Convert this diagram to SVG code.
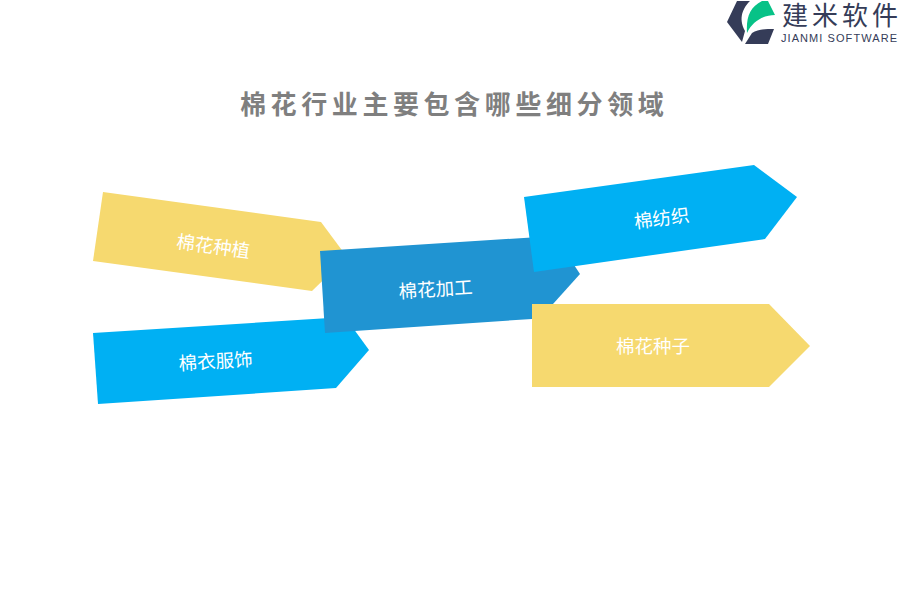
<svg xmlns="http://www.w3.org/2000/svg" width="900" height="600" viewBox="0 0 900 600">
<style>
text{font-family:"Noto Sans CJK SC","Liberation Sans",sans-serif}
.l{font-size:18.500px;fill:#fff;text-anchor:middle;dominant-baseline:central}
.y{fill:#f6d96f}.b{fill:#00b0f3}.m{fill:#2094d2}.d{fill:#353c58}
</style>
<rect width="900" height="600" fill="#fff"/>
<text x="240" y="114" font-size="26" font-weight="700" fill="#7f7f7f" letter-spacing="4.6">棉花行业主要包含哪些细分领域</text>
<g id="logo">
<path class="d" d="M737 1H750C743 8 738 18 745 31L742 42L727 22Z"/>
<path class="d" d="M745 44L752 33C758 29 766 29 774 29L768 44Z"/>
<path d="M747 33C746 17 750 7 762 1H768L775 15C765 15 753 20 747 33Z" fill="#07c287"/>
<text x="782" y="25" font-size="26" fill="#353c58" textLength="116">建米软件</text>
<text x="781" y="42" font-size="11" fill="#353c58" style="font-family:'Liberation Sans',sans-serif" textLength="116">JIANMI SOFTWARE</text>
</g>
<g id="connectors"></g>
<g id="node-zhongzhi"><path class="y" d="M103 192L321 222L347 257L312 291L93 261Z"/><text class="l" transform="translate(213.500 245) rotate(7.700)">棉花种植</text></g>
<g id="node-fushi"><path class="b" d="M93 333L345 317L369 350L336 388L98 404Z"/><text class="l" transform="translate(215.500 360) rotate(-3.500)">棉衣服饰</text></g>
<g id="node-jiagong"><path class="m" d="M320 251L555 236L580 274L553 304L532 319L325 333Z"/><text class="l" transform="translate(435.500 288) rotate(-3.500)">棉花加工</text></g>
<g id="node-fangzhi"><path class="b" d="M524 197L754 165L797 197L765 239L534 272Z"/><text class="l" transform="translate(661.500 217) rotate(-7.500)">棉纺织</text></g>
<g id="node-zhongzi"><path class="y" d="M532 304H769L810 346L769 387H532Z"/><text class="l" x="653" y="345">棉花种子</text></g>
</svg>
